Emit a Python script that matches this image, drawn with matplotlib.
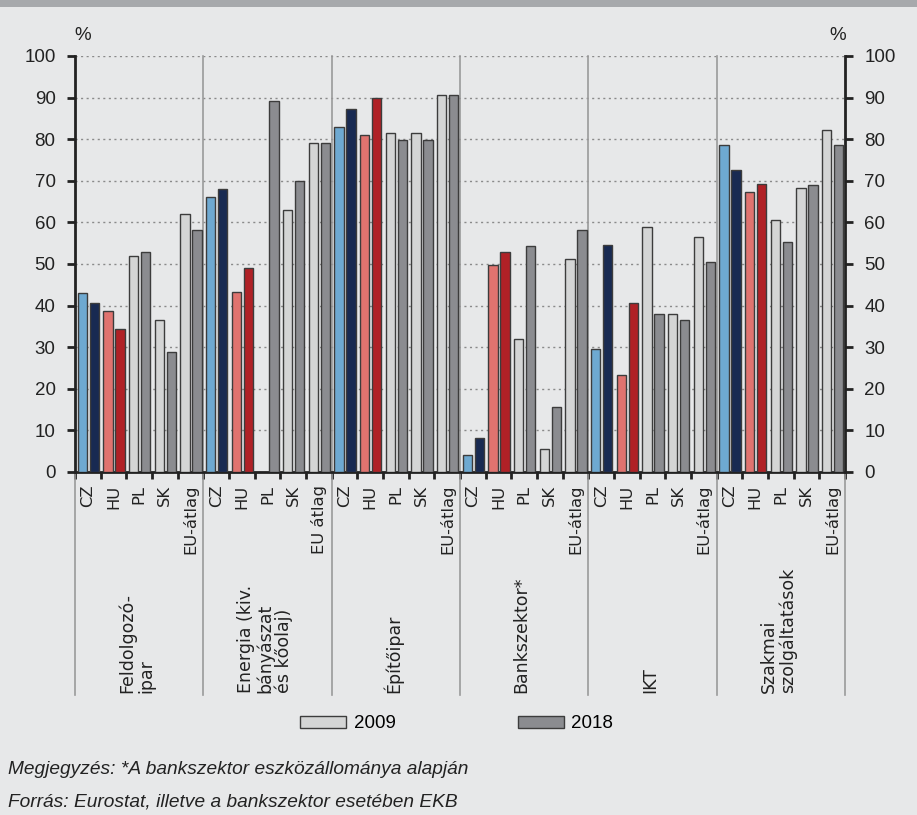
import matplotlib.pyplot as plt
import matplotlib.transforms as mtransforms
from matplotlib.patches import Rectangle
import numpy as np

# sectors (group labels) and countries
sectors = ["Feldolgozó-\nipar", "Energia (kiv.\nbányászat\nés kőolaj)", "Építőipar",
           "Bankszektor*", "IKT", "Szakmai\nszolgáltatások"]
countries = ["CZ", "HU", "PL", "SK", "EU-átlag"]
eu_label_energy = "EU átlag"

# values in %, one row per sector, columns follow countries
vals_2009 = [
    [43.0, 38.6, 52.0, 36.6, 62.1],
    [66.0, 43.2, np.nan, 62.9, 79.1],
    [82.9, 80.9, 81.4, 81.4, 90.7],
    [4.0, 49.8, 31.9, 5.6, 51.3],
    [29.6, 23.3, 59.0, 38.1, 56.6],
    [78.6, 67.4, 60.5, 68.3, 82.3],
]
vals_2018 = [
    [40.6, 34.3, 52.9, 28.8, 58.2],
    [68.0, 49.1, 89.2, 69.9, 79.1],
    [87.3, 89.9, 79.9, 79.9, 90.7],
    [8.1, 53.0, 54.3, 15.7, 58.2],
    [54.5, 40.7, 38.1, 36.6, 50.4],
    [72.5, 69.3, 55.2, 69.0, 78.5],
]
years = ["2009", "2018"]

# colours
bg = '#e7e8e9'
col_09 = {'CZ': '#6ea9d1', 'HU': '#e0736f'}
col_18 = {'CZ': '#182a52', 'HU': '#b02126'}
grey_09 = '#d4d5d5'
grey_18 = '#8b8c90'
edge = '#3c3c3c'

num_font = 'Liberation Sans'
lab_font = 'DejaVu Sans'

fig = plt.figure(figsize=(9.17, 8.15), dpi=100, facecolor=bg)
ax = fig.add_axes([75 / 917, 1 - 472 / 815, 770 / 917, 416 / 815])
ax.set_facecolor(bg)

# top grey band
fig.patches.append(Rectangle((0, 1 - 7 / 815), 1, 7 / 815, transform=fig.transFigure,
                             facecolor='#a7a9ac', edgecolor='none', zorder=0))

n_c = len(countries)
x09, x18, h09, h18, c09, c18 = [], [], [], [], [], []
for i in range(len(sectors)):
    for j, c in enumerate(countries):
        slot = i * n_c + j
        # missing values are simply not drawn
        if not np.isnan(vals_2009[i][j]):
            x09.append(slot + 0.29)
            h09.append(vals_2009[i][j])
            c09.append(col_09.get(c, grey_09))
        if not np.isnan(vals_2018[i][j]):
            x18.append(slot + 0.75)
            h18.append(vals_2018[i][j])
            c18.append(col_18.get(c, grey_18))

ax.bar(x09, h09, width=0.36, color=c09, edgecolor=edge, linewidth=1, zorder=3)
ax.bar(x18, h18, width=0.36, color=c18, edgecolor=edge, linewidth=1, zorder=3)

n_slots = len(sectors) * n_c
ax.set_xlim(0, n_slots)
ax.set_ylim(0, 100)

# grid
ax.set_yticks(range(0, 101, 10))
ax.yaxis.grid(True, linestyle=(0, (1.5, 2.5)), color='#8a8a8a', linewidth=1)
ax.set_axisbelow(True)

# spines
for s in ['left', 'right', 'bottom']:
    ax.spines[s].set_linewidth(2)
    ax.spines[s].set_color('#222222')
ax.spines['top'].set_visible(False)

ax.tick_params(axis='y', which='both', left=True, right=True, labelleft=True, labelright=True,
               direction='out', length=6, width=2, pad=8, labelsize=13.5, colors='#222222')
for lbl in ax.get_yticklabels():
    lbl.set_fontfamily(num_font)

# country labels on the x axis
xlabels = []
for i in range(len(sectors)):
    for j, c in enumerate(countries):
        if i == 1 and j == 4:
            xlabels.append(eu_label_energy)
        else:
            xlabels.append(c)
ax.set_xticks(np.arange(n_slots) + 0.5)
ax.set_xticklabels(xlabels, rotation=90, va='top', fontfamily=lab_font, fontsize=11.8, color='#222222')
ax.set_xticks(np.arange(n_slots + 1), minor=True)
ax.tick_params(axis='x', which='major', length=0, pad=9)
ax.tick_params(axis='x', which='minor', length=5, width=2, direction='out', color='#222222')

# group separators
trans = mtransforms.blended_transform_factory(ax.transData, ax.transAxes)
bottom_line = (472 - 695) / 416
for k in range(len(sectors) + 1):
    xk = k * n_c
    top = 1 if 0 < k < len(sectors) else 0
    ax.plot([xk, xk], [top, bottom_line], transform=trans, color='#9a9a9a', linewidth=1.2,
            clip_on=False, zorder=1)

# sector labels
for i, s in enumerate(sectors):
    ax.text(i * n_c + 2.4, bottom_line + 0.006, s, transform=trans, rotation=90, ha='center',
            va='bottom', multialignment='left', linespacing=1.05, fontfamily=lab_font,
            fontsize=12.5, color='#222222')

# % signs
ax.text(0.3, 1.03, '%', transform=trans, ha='center', va='bottom',
        fontfamily=num_font, fontsize=13.5, color='#222222')
ax.text(n_slots - 0.3, 1.03, '%', transform=trans, ha='center', va='bottom',
        fontfamily=num_font, fontsize=13.5, color='#222222')

# legend
handles = [Rectangle((0, 0), 1, 1, facecolor=grey_09, edgecolor=edge, linewidth=1),
           Rectangle((0, 0), 1, 1, facecolor=grey_18, edgecolor=edge, linewidth=1)]
fig.legend(handles, years, loc='center', bbox_to_anchor=(0.498, 1 - 724 / 815), ncol=2,
           frameon=False, handlelength=2.45, handleheight=0.6, columnspacing=6.5,
           handletextpad=0.4, prop={'family': num_font, 'size': 13.5})

# notes
fig.text(8 / 917, 1 - 770 / 815, "Megjegyzés: *A bankszektor eszközállománya alapján",
         fontfamily=num_font, fontstyle='italic', fontsize=13.8, color='#222222', va='center')
fig.text(8 / 917, 1 - 802 / 815, "Forrás: Eurostat, illetve a bankszektor esetében EKB",
         fontfamily=num_font, fontstyle='italic', fontsize=13.8, color='#222222', va='center')

fig.savefig('out.png', dpi=100, facecolor=bg)
